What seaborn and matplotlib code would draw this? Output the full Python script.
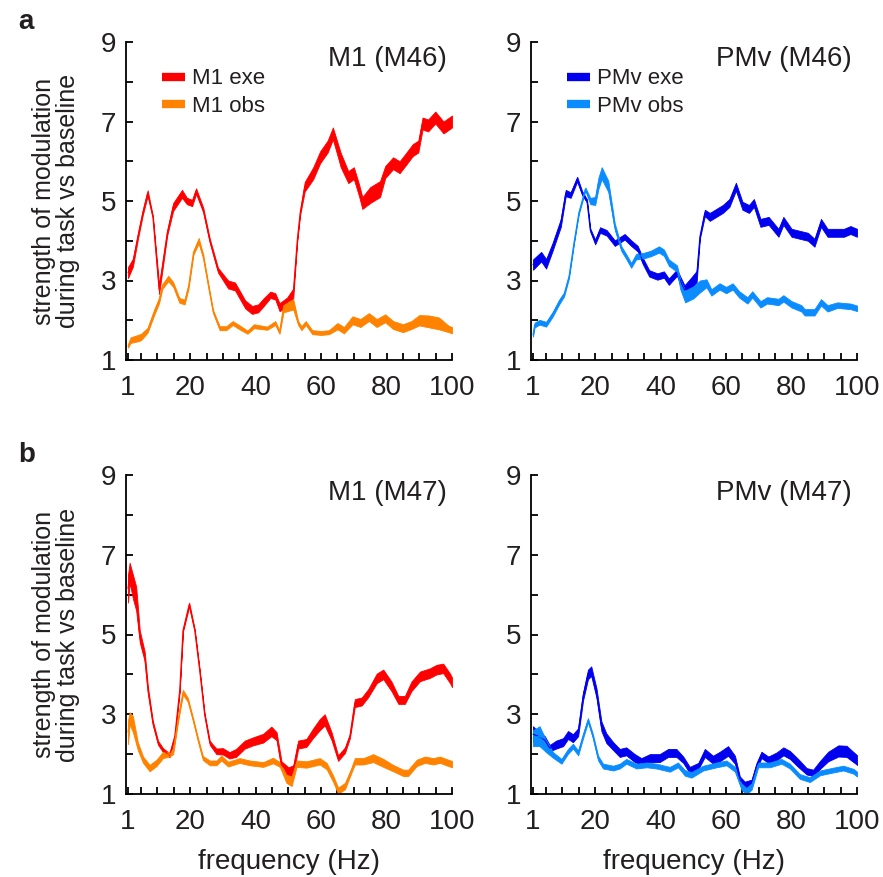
import numpy as np
import pandas as pd
import matplotlib
matplotlib.use("Agg")
import matplotlib.pyplot as plt
from matplotlib.lines import Line2D
import seaborn as sns

# ---------------- data ----------------
# Panel a, M1 (M46)
a_m1_exe_f = [1, 2.5, 4, 5.5, 7, 8.6, 10.5, 13, 14.8, 17.5, 19, 20.6, 21.8, 24, 26, 28.5, 31.6, 33.7,
              36.8, 38.9, 40.8, 42.4, 44.5, 46, 47.3, 49.6, 51.5, 52.7, 53.6, 55, 57.6, 59.7, 62, 63.6,
              66, 68.3, 70, 71.6, 72.6, 75, 78, 79.6, 82, 84, 85.7, 88, 89.7, 91, 92.7, 94.9, 97.4, 100]
a_m1_exe_m = [3.2, 3.45, 4.1, 4.7, 5.2, 4.6, 2.78, 4.2, 4.85, 5.18, 5.0, 4.95, 5.25, 4.77, 4.0, 3.26, 2.9, 2.85,
              2.4, 2.26, 2.3, 2.45, 2.64, 2.6, 2.33, 2.45, 2.68, 4.0, 4.7, 5.36, 5.7, 6.1, 6.37, 6.7,
              6.03, 5.6, 5.7, 5.27, 4.95, 5.15, 5.3, 5.73, 5.95, 5.85, 6.03, 6.28, 6.37, 6.95, 6.9, 7.1, 6.85, 7.0]
a_m1_exe_h = [0.14, 0.1, 0.07, 0.06, 0.07, 0.03, 0.12, 0.06, 0.1, 0.1, 0.08, 0.08, 0.07, 0.06, 0.05, 0.06, 0.1, 0.1,
              0.1, 0.1, 0.1, 0.1, 0.08, 0.08, 0.1, 0.12, 0.12, 0.03, 0.05, 0.12, 0.15, 0.15, 0.15, 0.15,
              0.18, 0.15, 0.15, 0.15, 0.15, 0.2, 0.2, 0.15, 0.15, 0.15, 0.15, 0.15, 0.15, 0.15, 0.15, 0.15, 0.15, 0.15]

a_m1_obs_f = [1, 1.8, 4, 5, 7, 9, 10.5, 11.5, 13.3, 14.8, 16.7, 18.3, 19.5, 21, 22.6, 24, 25.5, 27, 29, 31, 33,
              35.5, 37.5, 39.5, 43.5, 46, 47.3, 48.5, 51.5, 53, 54, 55.3, 57.3, 60, 62.4, 65, 67, 69.6, 72,
              74.6, 77, 79.6, 82, 85, 87.6, 90, 93, 96, 99, 100]
a_m1_obs_m = [1.35, 1.5, 1.55, 1.58, 1.75, 2.2, 2.5, 2.85, 3.05, 2.9, 2.5, 2.46, 2.85, 3.7, 4.0, 3.6, 2.9, 2.22,
              1.8, 1.8, 1.93, 1.8, 1.7, 1.85, 1.8, 1.93, 1.7, 2.3, 2.4, 1.93, 1.8, 1.93, 1.7, 1.68, 1.7,
              1.85, 1.75, 2.0, 1.93, 2.08, 1.93, 2.05, 1.88, 1.8, 1.88, 2.0, 1.97, 1.92, 1.78, 1.75]
a_m1_obs_h = [0.04, 0.07, 0.08, 0.08, 0.06, 0.07, 0.07, 0.06, 0.07, 0.06, 0.06, 0.06, 0.05, 0.05, 0.07, 0.05, 0.04,
              0.04, 0.05, 0.05, 0.05, 0.05, 0.04, 0.05, 0.04, 0.05, 0.04, 0.1, 0.13, 0.05, 0.05, 0.05, 0.05,
              0.05, 0.05, 0.08, 0.08, 0.1, 0.1, 0.1, 0.1, 0.1, 0.1, 0.1, 0.1, 0.13, 0.15, 0.15, 0.08, 0.08]

# Panel a, PMv (M46)
a_pm_exe_f = [1, 3.5, 5, 7, 9.5, 11, 12.5, 14.5, 16, 17.5, 18.5, 20, 21.5, 23.5, 26, 29, 31, 33, 34.5, 36.5,
              39, 41, 42.5, 45, 46, 47.3, 49, 51, 52, 53.5, 55, 57, 59, 61, 63, 65, 67, 68.5, 70.5, 73, 76,
              77.5, 80, 82.5, 85, 87, 89, 91, 94, 96, 98, 100]
a_pm_exe_m = [3.4, 3.6, 3.42, 3.85, 4.45, 5.2, 5.15, 5.55, 5.2, 5.0, 4.27, 3.97, 4.27, 4.2, 3.94, 4.1, 3.94, 3.8,
              3.5, 3.18, 3.1, 3.15, 2.97, 3.2, 3.0, 2.76, 2.9, 3.1, 4.1, 4.7, 4.6, 4.7, 4.8, 4.95, 5.36,
              4.88, 4.8, 4.95, 4.45, 4.5, 4.2, 4.5, 4.2, 4.15, 4.1, 3.95, 4.45, 4.2, 4.2, 4.2, 4.27, 4.2]
a_pm_exe_h = [0.13, 0.12, 0.12, 0.1, 0.1, 0.08, 0.07, 0.06, 0.05, 0.04, 0.04, 0.06, 0.07, 0.07, 0.07, 0.07, 0.07,
              0.07, 0.08, 0.08, 0.08, 0.08, 0.08, 0.08, 0.1, 0.12, 0.14, 0.14, 0.04, 0.08, 0.1, 0.1, 0.1,
              0.1, 0.1, 0.1, 0.1, 0.1, 0.1, 0.1, 0.1, 0.1, 0.1, 0.1, 0.1, 0.1, 0.1, 0.1, 0.1, 0.1, 0.1, 0.1]

a_pm_obs_f = [1, 1.5, 3, 5, 7, 9, 10.5, 12, 13.5, 15, 17, 18.5, 20, 21, 22, 24, 26, 28, 29.5, 31, 32.5, 35,
              37, 39.5, 41, 42.5, 45, 46, 47.5, 50, 52, 54, 55.5, 58, 60, 62, 64, 66.5, 68, 70.5, 72.5, 76,
              77.5, 80, 83, 84, 87, 89, 91, 94, 98, 100]
a_pm_obs_m = [1.63, 1.88, 1.95, 1.9, 2.15, 2.46, 2.65, 3.1, 3.94, 4.7, 5.3, 5.0, 5.0, 5.45, 5.7, 5.37, 4.35, 3.8,
              3.6, 3.38, 3.6, 3.63, 3.68, 3.78, 3.7, 3.45, 3.3, 2.9, 2.6, 2.7, 2.85, 2.93, 2.7, 2.85,
              2.76, 2.85, 2.65, 2.5, 2.65, 2.4, 2.5, 2.46, 2.55, 2.4, 2.3, 2.2, 2.2, 2.45, 2.3, 2.38, 2.35, 2.3]
a_pm_obs_h = [0.04, 0.06, 0.06, 0.06, 0.06, 0.06, 0.05, 0.04, 0.03, 0.03, 0.04, 0.08, 0.1, 0.14, 0.15, 0.14, 0.08,
              0.06, 0.06, 0.06, 0.07, 0.07, 0.07, 0.08, 0.08, 0.08, 0.08, 0.12, 0.15, 0.15, 0.15, 0.1,
              0.08, 0.08, 0.08, 0.08, 0.08, 0.08, 0.08, 0.08, 0.08, 0.08, 0.08, 0.08, 0.08, 0.08, 0.08,
              0.08, 0.08, 0.07, 0.07, 0.07]

# Panel b, M1 (M47)
b_m1_exe_f = [1, 1.5, 2.5, 3.5, 4.6, 6.1, 7.1, 8.6, 10.2, 11.7, 13.7, 15.3, 16.8, 17.8, 19.7, 21.4, 22.9,
              24.4, 26, 28, 30, 32, 34, 36.7, 39.2, 42.3, 44.8, 46.4, 47.9, 50, 51.5, 53, 55.5, 57.6,
              59.6, 61.1, 63.2, 65.2, 67.3, 68.8, 70.3, 72.4, 74.4, 77, 79, 81.5, 83.6, 85.6, 87.6, 90.2,
              93.2, 95.3, 97.3, 99.4, 100]
b_m1_exe_m = [6.15, 6.55, 6.2, 5.9, 4.95, 4.45, 3.6, 2.78, 2.28, 2.1, 1.97, 2.45, 3.6, 5.1, 5.75, 5.1, 4.1, 3.0,
              2.28, 2.07, 2.07, 1.97, 2.03, 2.24, 2.32, 2.4, 2.57, 2.45, 1.72, 1.55, 1.6, 2.24, 2.28, 2.53,
              2.74, 2.86, 2.45, 1.9, 2.1, 2.45, 3.28, 3.32, 3.53, 3.9, 4.0, 3.7, 3.36, 3.36, 3.7, 3.95,
              4.03, 4.12, 4.15, 3.9, 3.8]
b_m1_exe_h = [0.35, 0.25, 0.3, 0.3, 0.15, 0.12, 0.08, 0.05, 0.05, 0.05, 0.05, 0.03, 0.03, 0.03, 0.05, 0.03, 0.03,
              0.03, 0.05, 0.07, 0.08, 0.08, 0.1, 0.1, 0.1, 0.11, 0.12, 0.1, 0.1, 0.12, 0.12, 0.1, 0.1, 0.12,
              0.14, 0.14, 0.1, 0.07, 0.07, 0.05, 0.1, 0.1, 0.1, 0.12, 0.12, 0.12, 0.1, 0.1, 0.12, 0.12,
              0.12, 0.12, 0.12, 0.12, 0.12]

b_m1_obs_f = [1, 1.5, 2.5, 4, 5.6, 7.6, 9.7, 11.7, 13.7, 14.8, 16.3, 17.8, 19.3, 20.9, 22.4, 23.9, 26, 28,
              29.5, 31.6, 35.1, 38.2, 42.3, 45.3, 47.4, 49.4, 51, 52.5, 55.5, 59.6, 61.7, 63.7, 65.2, 67.3,
              69.3, 70.3, 72.9, 75.9, 79, 82, 85.1, 86.6, 89.2, 91.7, 94.3, 96.3, 98.9, 100]
b_m1_obs_m = [2.55, 2.9, 2.75, 2.2, 1.86, 1.65, 1.78, 1.98, 2.0, 2.05, 2.86, 3.55, 3.36, 2.86, 2.36, 1.9, 1.78,
              1.78, 1.9, 1.75, 1.84, 1.78, 1.74, 1.84, 1.74, 1.38, 1.32, 1.76, 1.74, 1.82, 1.7, 1.38, 1.08,
              1.2, 1.6, 1.82, 1.82, 1.9, 1.78, 1.65, 1.53, 1.53, 1.78, 1.86, 1.82, 1.86, 1.78, 1.75]
b_m1_obs_h = [0.3, 0.15, 0.2, 0.1, 0.08, 0.08, 0.08, 0.08, 0.06, 0.05, 0.04, 0.06, 0.05, 0.04, 0.04, 0.05, 0.06,
              0.06, 0.06, 0.06, 0.06, 0.06, 0.06, 0.07, 0.06, 0.1, 0.12, 0.08, 0.08, 0.08, 0.08, 0.08, 0.08,
              0.08, 0.06, 0.08, 0.08, 0.1, 0.1, 0.08, 0.08, 0.08, 0.08, 0.08, 0.08, 0.08, 0.08, 0.08]

# Panel b, PMv (M47)
b_pm_exe_f = [1, 2.5, 4.6, 6.1, 8.1, 10.2, 11.7, 13.2, 14.8, 16.3, 17.8, 18.8, 20.4, 21.9, 23.4, 25.5, 27.5,
              29.5, 32.1, 34.1, 36.7, 39.7, 42.3, 44.8, 46.9, 48.9, 51.5, 53.5, 56, 58.1, 60.6, 62.7, 64.2,
              65.7, 67.8, 69.3, 70.8, 72.9, 75.4, 77.5, 79.5, 82, 84.6, 86.6, 88.7, 91.2, 94.3, 96.8,
              99.9, 100]
b_pm_exe_m = [2.5, 2.45, 2.35, 2.15, 2.24, 2.3, 2.48, 2.4, 2.55, 3.45, 4.0, 4.08, 3.53, 2.7, 2.4, 2.2, 2.03,
              2.07, 1.9, 1.82, 1.9, 1.9, 2.03, 2.03, 1.86, 1.6, 1.7, 2.03, 1.86, 1.94, 2.08, 1.86, 1.36,
              1.23, 1.28, 1.7, 1.98, 1.86, 1.94, 2.07, 1.98, 1.78, 1.57, 1.53, 1.73, 1.94, 2.08, 2.07,
              1.86, 1.85]
b_pm_exe_h = [0.2, 0.12, 0.1, 0.08, 0.1, 0.1, 0.1, 0.1, 0.1, 0.1, 0.12, 0.12, 0.12, 0.12, 0.12, 0.1, 0.1, 0.1,
              0.1, 0.08, 0.1, 0.1, 0.1, 0.1, 0.08, 0.08, 0.08, 0.1, 0.1, 0.12, 0.12, 0.1, 0.08, 0.08, 0.08,
              0.08, 0.08, 0.08, 0.1, 0.1, 0.1, 0.1, 0.08, 0.08, 0.1, 0.12, 0.14, 0.14, 0.12, 0.12]

b_pm_obs_f = [1, 3, 5, 7.1, 9.7, 11.7, 13.2, 14.8, 16.3, 17.8, 19.3, 20.9, 22.4, 25.5, 27.5, 29.5, 32.6, 35.7,
              38.7, 42.8, 45.3, 47.4, 49.4, 53, 57.1, 60.1, 62.7, 64.7, 66.2, 67.8, 69.8, 73.4, 76.9, 79.5,
              82.5, 85.6, 88.7, 92.7, 95.8, 98.9, 100]
b_pm_obs_m = [2.4, 2.45, 2.2, 1.98, 1.82, 2.07, 2.2, 2.03, 2.45, 2.85, 2.45, 1.9, 1.7, 1.65, 1.7, 1.82, 1.7,
              1.73, 1.7, 1.62, 1.73, 1.53, 1.48, 1.65, 1.73, 1.78, 1.62, 1.19, 1.07, 1.19, 1.73, 1.73, 1.82,
              1.7, 1.44, 1.36, 1.53, 1.6, 1.65, 1.57, 1.5]
b_pm_obs_h = [0.2, 0.25, 0.15, 0.07, 0.06, 0.06, 0.06, 0.06, 0.05, 0.05, 0.05, 0.06, 0.06, 0.06, 0.06, 0.06,
              0.06, 0.06, 0.06, 0.06, 0.06, 0.07, 0.07, 0.06, 0.06, 0.06, 0.06, 0.08, 0.08, 0.08, 0.06,
              0.06, 0.06, 0.06, 0.06, 0.06, 0.06, 0.06, 0.06, 0.06, 0.06]

panel_titles = ["M1 (M46)", "PMv (M46)", "M1 (M47)", "PMv (M47)"]
m1_labels = ["M1 exe", "M1 obs"]
pm_labels = ["PMv exe", "PMv obs"]
m1_colors = ["#FF0000", "#FF8200"]
pm_colors = ["#0000EE", "#0A8CFF"]
x_ticks = [1, 5, 10, 15, 20, 25, 30, 35, 40, 45, 50, 55, 60, 65, 70, 75, 80, 85, 90, 95, 100]
x_ticklabels = ["1", "", "", "", "20", "", "", "", "40", "", "", "", "60", "", "", "", "80", "", "", "", "100"]
y_ticks = [1, 2, 3, 4, 5, 6, 7, 8, 9]
y_ticklabels = ["1", "", "3", "", "5", "", "7", "", "9"]
ylabel_text = "strength of modulation\nduring task vs baseline"
xlabel_text = "frequency (Hz)"


def band_frame(series):
    rows = []
    for label, f, m, h in series:
        for fi, mi, hi in zip(f, m, h):
            rows.append((label, fi, mi - hi))
            rows.append((label, fi, mi + hi))
    return pd.DataFrame(rows, columns=["series", "freq", "value"])


sns.set_theme(style="ticks")
plt.rcParams["font.family"] = ["Liberation Sans", "DejaVu Sans"]
TXT = "#231F20"

fig = plt.figure(figsize=(8.83, 8.77), dpi=100)
W, H = 883, 877
positions = [
    (126 / W, 1 - 360 / H, 326 / W, 318 / H),
    (531 / W, 1 - 360 / H, 326 / W, 318 / H),
    (126 / W, 1 - 794 / H, 326 / W, 319 / H),
    (531 / W, 1 - 794 / H, 326 / W, 319 / H),
]

panel_series = [
    ([(m1_labels[0], a_m1_exe_f, a_m1_exe_m, a_m1_exe_h), (m1_labels[1], a_m1_obs_f, a_m1_obs_m, a_m1_obs_h)], m1_labels, m1_colors),
    ([(pm_labels[0], a_pm_exe_f, a_pm_exe_m, a_pm_exe_h), (pm_labels[1], a_pm_obs_f, a_pm_obs_m, a_pm_obs_h)], pm_labels, pm_colors),
    ([(m1_labels[0], b_m1_exe_f, b_m1_exe_m, b_m1_exe_h), (m1_labels[1], b_m1_obs_f, b_m1_obs_m, b_m1_obs_h)], m1_labels, m1_colors),
    ([(pm_labels[0], b_pm_exe_f, b_pm_exe_m, b_pm_exe_h), (pm_labels[1], b_pm_obs_f, b_pm_obs_m, b_pm_obs_h)], pm_labels, pm_colors),
]

for i, (pos, (series, labels, colors)) in enumerate(zip(positions, panel_series)):
    ax = fig.add_axes(pos)
    df = band_frame(series)
    sns.lineplot(data=df, x="freq", y="value", hue="series", hue_order=labels,
                 palette=dict(zip(labels, colors)), estimator="mean",
                 errorbar=("pi", 100), err_kws={"alpha": 1.0, "linewidth": 0.6},
                 linewidth=0.8, legend=False, ax=ax)
    ax.set_xlim(0.39, 100)
    ax.set_ylim(1, 9)
    ax.set_xticks(x_ticks)
    ax.set_xticklabels(x_ticklabels)
    ax.set_yticks(y_ticks)
    ax.set_yticklabels(y_ticklabels)
    ax.tick_params(axis="both", direction="in", length=5, width=1.3, colors="black",
                   labelcolor=TXT, labelsize=20)
    ax.tick_params(axis="x", pad=11)
    ax.tick_params(axis="y", pad=7)
    for s in ["top", "right"]:
        ax.spines[s].set_visible(False)
    for s in ["left", "bottom"]:
        ax.spines[s].set_linewidth(1.3)
        ax.spines[s].set_color("black")
    ax.set_xlabel("")
    ax.set_ylabel("")
    ax.text(0.985, 0.945, panel_titles[i], transform=ax.transAxes, ha="right", va="center",
            fontsize=20, color=TXT)
    if i in (0, 2):
        ax.set_ylabel(ylabel_text, fontsize=18, color=TXT, linespacing=1.0, labelpad=15)
    if i in (2, 3):
        ax.set_xlabel(xlabel_text, fontsize=20, color=TXT, labelpad=10)
    if i in (0, 1):
        handles = [Line2D([0], [0], color=c, lw=6, solid_capstyle="butt") for c in colors]
        ax.legend(handles, labels, loc="upper left", bbox_to_anchor=(0.05, 0.98), frameon=False,
                  fontsize=16, handlelength=1.0, handletextpad=0.35, labelspacing=0.3,
                  labelcolor=TXT)

fig.text(18 / W, 1 - 22 / H, "a", fontsize=20, fontweight="bold", color=TXT, ha="left", va="center")
fig.text(18 / W, 1 - 455 / H, "b", fontsize=20, fontweight="bold", color=TXT, ha="left", va="center")

fig.savefig("out.png", dpi=100)
